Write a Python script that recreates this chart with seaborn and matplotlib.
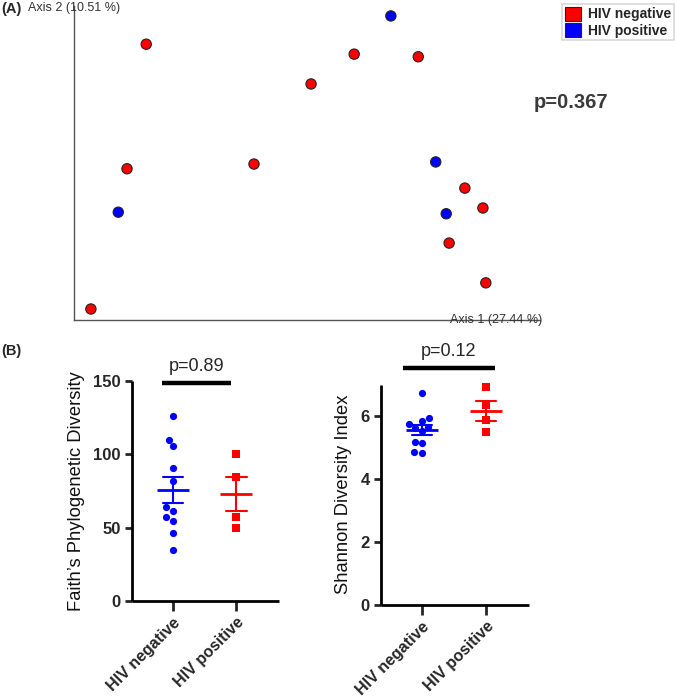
import matplotlib
matplotlib.use("Agg")
import matplotlib.pyplot as plt
import pandas as pd
import seaborn as sns
from matplotlib.patches import Patch

# ---------------------------------------------------------------
# data
# ---------------------------------------------------------------
groups = ['HIV negative', 'HIV positive']

# (A) PCoA coordinates
pc1_neg = [-0.226, 0.057, -0.259, -0.041, -0.321, 0.131, 0.241, 0.321, 0.352, 0.294, 0.357]
pc2_neg = [0.227, 0.151, -0.011, -0.002, -0.279, 0.208, 0.203, -0.048, -0.086, -0.153, -0.229]
pc1_pos = [-0.274, 0.194, 0.271, 0.289]
pc2_pos = [-0.094, 0.281, 0.002, -0.097]

# (B) alpha diversity
faith_neg = [126, 110, 105.7, 91, 81.8, 61.6, 63.9, 54.8, 57, 46.4, 34.8]
faith_pos = [100, 84.5, 57.5, 50]
shannon_neg = [6.73, 5.66, 5.75, 5.84, 5.93, 5.53, 5.62, 5.13, 5.17, 4.83, 4.86]
shannon_pos = [6.92, 6.34, 5.87, 5.50]

p_pcoa = 'p=0.367'
p_faith = 'p=0.89'
p_shannon = 'p=0.12'

df_a = pd.DataFrame({
    'pc1': pc1_neg + pc1_pos,
    'pc2': pc2_neg + pc2_pos,
    'group': [groups[0]] * len(pc1_neg) + [groups[1]] * len(pc1_pos),
})
df_b = pd.DataFrame({
    'group': [groups[0]] * len(faith_neg) + [groups[1]] * len(faith_pos),
    'faith': faith_neg + faith_pos,
})
df_c = pd.DataFrame({
    'group': [groups[0]] * len(shannon_neg) + [groups[1]] * len(shannon_pos),
    'shannon': shannon_neg + shannon_pos,
})

pal_a = {groups[0]: '#ff0000', groups[1]: '#0000ff'}
pal_b = {groups[0]: '#0000ff', groups[1]: '#ff0000'}

sns.set_theme(style='ticks')
plt.rcParams['font.family'] = ['Liberation Sans', 'DejaVu Sans']

W, H = 675, 699
fig = plt.figure(figsize=(W / 100, H / 100), dpi=100)


def px_axes(left, top, right, bottom):
    return fig.add_axes([left / W, 1 - bottom / H, (right - left) / W, (bottom - top) / H])


# ---------------------------------------------------------------
# (A) PCoA
# ---------------------------------------------------------------
ax_a = px_axes(74, 6, 540, 320)
sns.scatterplot(data=df_a, x='pc1', y='pc2', hue='group', palette=pal_a, s=55,
                edgecolor='#222222', linewidth=0.8, legend=False, ax=ax_a)
ax_a.set_xlim(-0.35, 0.45)
ax_a.set_ylim(-0.3, 0.3)
ax_a.set_xticks([])
ax_a.set_yticks([])
ax_a.set_xlabel('')
ax_a.set_ylabel('')
for side in ['top', 'right']:
    ax_a.spines[side].set_visible(False)
for side in ['left', 'bottom']:
    ax_a.spines[side].set_color('#555555')
    ax_a.spines[side].set_linewidth(1.0)

fig.text(1 / W, 1 - 9 / H, '(A)', fontsize=10.5, fontweight='bold', va='center', ha='left')
fig.text(28 / W, 1 - 8 / H, 'Axis 2 (10.51 %)', fontsize=9, color='#333333', va='center', ha='left')
fig.text(450 / W, 1 - 320 / H, 'Axis 1 (27.44 %)', fontsize=9, color='#333333', va='center', ha='left')
fig.text(534 / W, 1 - 102 / H, p_pcoa, fontsize=14.5, fontweight='bold', color='#3a3a3a',
         va='center', ha='left')

handles = [Patch(facecolor=pal_a[g], edgecolor='#222222', linewidth=0.8, label=g) for g in groups]
leg = fig.legend(handles=handles, loc='upper left', bbox_to_anchor=(562 / W, 1 - 4 / H),
                 frameon=True, fancybox=False, edgecolor='#cfcfcf', borderpad=0.2,
                 handlelength=1.15, handleheight=1.15, handletextpad=0.5, labelspacing=0.12,
                 borderaxespad=0, prop={'weight': 'bold', 'size': 10})
leg.get_frame().set_linewidth(1.2)

# ---------------------------------------------------------------
# (B) alpha diversity
# ---------------------------------------------------------------
fig.text(1 / W, 1 - 351 / H, '(B)', fontsize=10.5, fontweight='bold', va='center', ha='left')


def dot_plot(ax, df, col, ylim, yticks, ylabel, ptext, bar_x, bar_y, text_y):
    sub_neg = df[df['group'] == groups[0]]
    sub_pos = df[df['group'] == groups[1]]
    sns.swarmplot(data=sub_neg, x='group', y=col, order=groups, color=pal_b[groups[0]],
                  marker='o', size=5.2, linewidth=0, ax=ax)
    sns.swarmplot(data=sub_pos, x='group', y=col, order=groups, color=pal_b[groups[1]],
                  marker='s', size=5.2, linewidth=0, ax=ax)
    sns.pointplot(data=df, x='group', y=col, hue='group', order=groups, hue_order=groups,
                  palette=pal_b, errorbar='se', capsize=0.32, marker='_', markersize=23,
                  markeredgewidth=2.0, linestyle='none', err_kws={'linewidth': 1.5},
                  legend=False, ax=ax)
    for coll in ax.collections:
        coll.set_clip_on(False)
    ax.set_xlim(-0.64, 1.67)
    ax.set_ylim(*ylim)
    ax.set_yticks(yticks)
    ax.set_xlabel('')
    ax.set_ylabel(ylabel, fontsize=13.2, labelpad=6, color='#111111')
    for side in ['top', 'right']:
        ax.spines[side].set_visible(False)
    for side in ['left', 'bottom']:
        ax.spines[side].set_linewidth(2.0)
        ax.spines[side].set_color('black')
        ax.spines[side].set_capstyle('butt')
    ax.tick_params(axis='y', length=5, width=2.0, labelsize=12, pad=3)
    ax.tick_params(axis='x', length=7, width=2.0, labelsize=11.5, pad=3)
    for lab in ax.get_yticklabels():
        lab.set_fontweight('bold')
    ax.set_xticks(range(len(groups)))
    ax.set_xticklabels(groups, rotation=45, ha='right', rotation_mode='anchor',
                       fontweight='bold')
    # significance bar
    ax.plot(bar_x, [bar_y, bar_y], color='black', linewidth=3.2, clip_on=False,
            solid_capstyle='butt')
    ax.text(sum(bar_x) / 2, text_y, ptext, fontsize=13, ha='center', va='center')


ax_b = px_axes(132, 381, 279, 601)
dot_plot(ax_b, df_b, 'faith', (0, 150), [0, 50, 100, 150],
         "Faith\u2019s Phylogenetic Diversity", p_faith, [-0.17, 0.92], 148.5, 160)

ax_c = px_axes(381, 384.5, 529, 605)
dot_plot(ax_c, df_c, 'shannon', (0, 7), [0, 2, 4, 6],
         'Shannon Diversity Index', p_shannon, [-0.30, 1.14], 7.52, 8.05)

fig.savefig('out.png', dpi=100)
